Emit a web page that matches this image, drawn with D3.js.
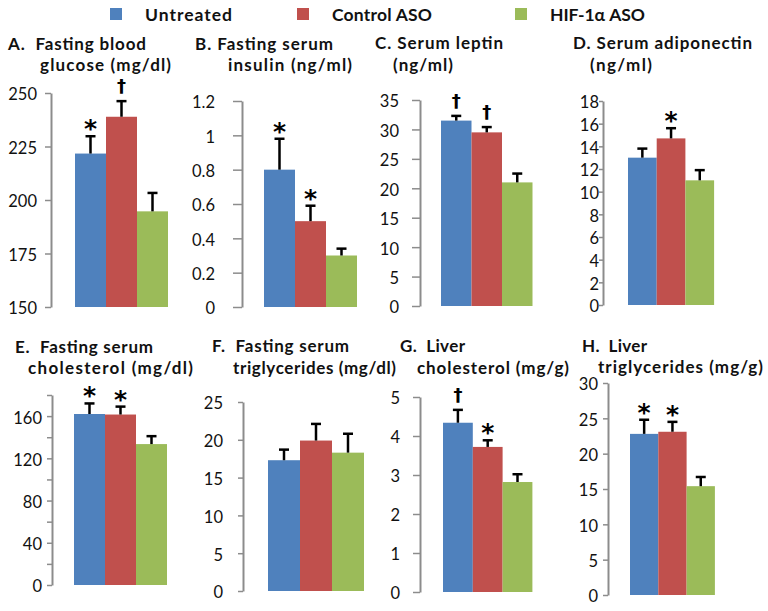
<!DOCTYPE html>
<html><head><meta charset="utf-8">
<script src="https://cdn.jsdelivr.net/npm/d3@7"></script>
<style>
html,body{margin:0;padding:0;background:#fff;}
svg{display:block;}
text{font-family:Lato,'Liberation Sans',sans-serif;}
</style></head>
<body><svg id="chart" width="768" height="611"></svg>
<script>
// ---------------- data ----------------
const groups = ["Untreated", "Control ASO", "HIF-1\u03B1 ASO"];
const groupColors = ["#4F81BD", "#C0504D", "#9BBB59"];

const glucoseMean = [221.7, 238.9, 194.7];
const glucoseErr  = [8.1, 7.3, 8.6];
const glucoseSig  = ["*", "\u2020", ""];
const glucoseTicks = [150, 175, 200, 225, 250];

const insulinMean = [0.80, 0.50, 0.30];
const insulinErr  = [0.18, 0.09, 0.04];
const insulinSig  = ["*", "*", ""];
const insulinTicks = [0, 0.2, 0.4, 0.6, 0.8, 1, 1.2];

const leptinMean = [31.5, 29.5, 21.0];
const leptinErr  = [0.8, 0.9, 1.5];
const leptinSig  = ["\u2020", "\u2020", ""];
const leptinTicks = [0, 5, 10, 15, 20, 25, 30, 35];

const adipoMean = [13.0, 14.7, 11.0];
const adipoErr  = [0.8, 0.9, 0.9];
const adipoSig  = ["", "*", ""];
const adipoTicks = [0, 2, 4, 6, 8, 10, 12, 14, 16, 18];

const cholMean = [162, 161.5, 133.5];
const cholErr  = [10, 7.5, 7.5];
const cholSig  = ["*", "*", ""];
const cholTicks = [0, 20, 40, 60, 80, 100, 120, 140, 160, 180];
const cholTickLabels = [0, 40, 80, 120, 160];

const tgMean = [17.3, 19.9, 18.3];
const tgErr  = [1.4, 2.2, 2.5];
const tgSig  = ["", "", ""];
const tgTicks = [0, 5, 10, 15, 20, 25];

const livCholMean = [4.34, 3.72, 2.82];
const livCholErr  = [0.33, 0.17, 0.2];
const livCholSig  = ["\u2020", "*", ""];
const livCholTicks = [0, 1, 2, 3, 4, 5];

const livTgMean = [22.8, 23.1, 15.4];
const livTgErr  = [2.0, 1.4, 1.3];
const livTgSig  = ["*", "*", ""];
const livTgTicks = [0, 5, 10, 15, 20, 25, 30];

const titles = [
  ["A.  Fasting blood", "glucose (mg/dl)"],
  ["B. Fasting serum", "insulin (ng/ml)"],
  ["C. Serum leptin", "(ng/ml)"],
  ["D. Serum adiponectin", "(ng/ml)"],
  ["E.  Fasting serum", "cholesterol (mg/dl)"],
  ["F.  Fasting serum", "triglycerides (mg/dl)"],
  ["G.  Liver", "cholesterol (mg/g)"],
  ["H.  Liver", "triglycerides (mg/g)"]
];

// ---------------- layout ----------------
const panels = [
  {mean: glucoseMean, err: glucoseErr, sig: glucoseSig, ticks: glucoseTicks, labels: glucoseTicks,
   t1: [8, 50, 138], t2: [40, 71, 131], axisX: 51, yB: 307, yT: 93, tickLen: 6, labelRight: 37, barX: 75, barW: 31},
  {mean: insulinMean, err: insulinErr, sig: insulinSig, ticks: insulinTicks, labels: insulinTicks,
   t1: [195, 50, 138], t2: [228, 71, 124], axisX: 242, yB: 307, yT: 101, tickLen: 9, labelRight: 215, barX: 264, barW: 31},
  {mean: leptinMean, err: leptinErr, sig: leptinSig, ticks: leptinTicks, labels: leptinTicks,
   t1: [375, 49, 128], t2: [393, 71, 60], axisX: 420, yB: 306, yT: 100, tickLen: 8, labelRight: 399, barX: 441, barW: 30.5},
  {mean: adipoMean, err: adipoErr, sig: adipoSig, ticks: adipoTicks, labels: adipoTicks,
   t1: [573, 49, 179], t2: [590, 71, 62], axisX: 603, yB: 305, yT: 101, tickLen: 4, labelRight: 599, barX: 628, barW: 28.7},
  {mean: cholMean, err: cholErr, sig: cholSig, ticks: cholTicks, labels: cholTickLabels,
   t1: [15, 353, 138], t2: [28, 374, 165], axisX: 52, yB: 585, yT: 395, tickLen: 5, labelRight: 42, barX: 74, barW: 31},
  {mean: tgMean, err: tgErr, sig: tgSig, ticks: tgTicks, labels: tgTicks,
   t1: [212, 352, 137], t2: [233, 374, 163], axisX: 243, yB: 591, yT: 402, tickLen: 5, labelRight: 223, barX: 268, barW: 32},
  {mean: livCholMean, err: livCholErr, sig: livCholSig, ticks: livCholTicks, labels: livCholTicks,
   t1: [400, 352, 65], t2: [417, 374, 152], axisX: 420, yB: 592, yT: 397, tickLen: 7, labelRight: 400, barX: 443, barW: 29.8},
  {mean: livTgMean, err: livTgErr, sig: livTgSig, ticks: livTgTicks, labels: livTgTicks,
   t1: [582, 352, 65], t2: [598, 373, 165], axisX: 608, yB: 595, yT: 383, tickLen: 5, labelRight: 598, barX: 630, barW: 28.3}
];

const svg = d3.select("#chart");

// legend
const legX = [110, 297, 515];
const legW = [87, 100, 95];
const leg = svg.append("g");
groups.forEach((g, i) => {
  leg.append("rect").attr("x", legX[i]).attr("y", 8).attr("width", 12).attr("height", 12)
    .attr("fill", groupColors[i]);
  leg.append("text").attr("x", legX[i] + 35).attr("y", 21)
    .attr("font-size", 17.5).attr("font-weight", "bold").attr("fill", "#111")
    .attr("textLength", legW[i]).attr("lengthAdjust", "spacing").text(g);
});

const color = d3.scaleOrdinal().domain(groups).range(groupColors);

panels.forEach((p, pi) => {
  const g = svg.append("g");
  // titles
  [p.t1, p.t2].forEach((t, li) => {
    g.append("text").attr("x", t[0]).attr("y", t[1]).attr("font-size", 17)
      .attr("font-weight", "bold").attr("fill", "#111").attr("xml:space", "preserve")
      .attr("textLength", t[2]).attr("lengthAdjust", "spacing").text(titles[pi][li]);
  });

  const dom = [p.ticks[0], p.ticks[p.ticks.length - 1]];
  const y = d3.scaleLinear().domain(dom).range([p.yB, p.yT]);
  const x = d3.scaleBand().domain(groups).range([p.barX, p.barX + 3 * p.barW]).padding(0);

  const labelSet = new Set(p.labels);
  const axis = d3.axisLeft(y).tickValues(p.ticks).tickSize(p.tickLen).tickSizeOuter(0)
    .tickPadding(p.axisX - p.tickLen - p.labelRight)
    .tickFormat(v => labelSet.has(v) ? String(v) : "");
  const ag = g.append("g").attr("transform", `translate(${p.axisX},0)`).call(axis);
  ag.select(".domain").attr("stroke", "#8c8c8c").attr("stroke-width", 2);
  ag.selectAll(".tick line").attr("stroke", "#8c8c8c").attr("stroke-width", 1.5);
  ag.selectAll(".tick text").attr("font-size", 16.5).attr("font-family", "Lato,'Liberation Sans',sans-serif")
    .attr("fill", "#111").attr("dy", "0.42em");

  const rows = groups.map((k, i) => ({k, v: p.mean[i], e: p.err[i], s: p.sig[i]}));

  g.selectAll("rect.bar").data(rows).join("rect").attr("class", "bar")
    .attr("x", d => x(d.k)).attr("width", x.bandwidth())
    .attr("y", d => y(d.v)).attr("height", d => y(dom[0]) - y(d.v))
    .attr("fill", d => color(d.k));

  const cx = d => x(d.k) + x.bandwidth() / 2;
  g.selectAll("line.stem").data(rows).join("line").attr("class", "stem")
    .attr("x1", cx).attr("x2", cx).attr("y1", d => y(d.v)).attr("y2", d => y(d.v + d.e))
    .attr("stroke", "#000").attr("stroke-width", 2.5);
  g.selectAll("line.cap").data(rows).join("line").attr("class", "cap")
    .attr("x1", d => cx(d) - 5).attr("x2", d => cx(d) + 5)
    .attr("y1", d => y(d.v + d.e)).attr("y2", d => y(d.v + d.e))
    .attr("stroke", "#000").attr("stroke-width", 2.5);

  g.selectAll("text.sig").data(rows.filter(d => d.s)).join("text").attr("class", "sig")
    .attr("x", cx)
    .attr("y", d => y(d.v + d.e) + (d.s === "*" ? 1 : -9))
    .attr("text-anchor", "middle")
    .style("font-family", "'DejaVu Sans',sans-serif")
    .attr("font-size", d => d.s === "*" ? 25 : 18)
    .attr("font-weight", "bold").attr("fill", "#000")
    .text(d => d.s);
});
</script></body></html>
